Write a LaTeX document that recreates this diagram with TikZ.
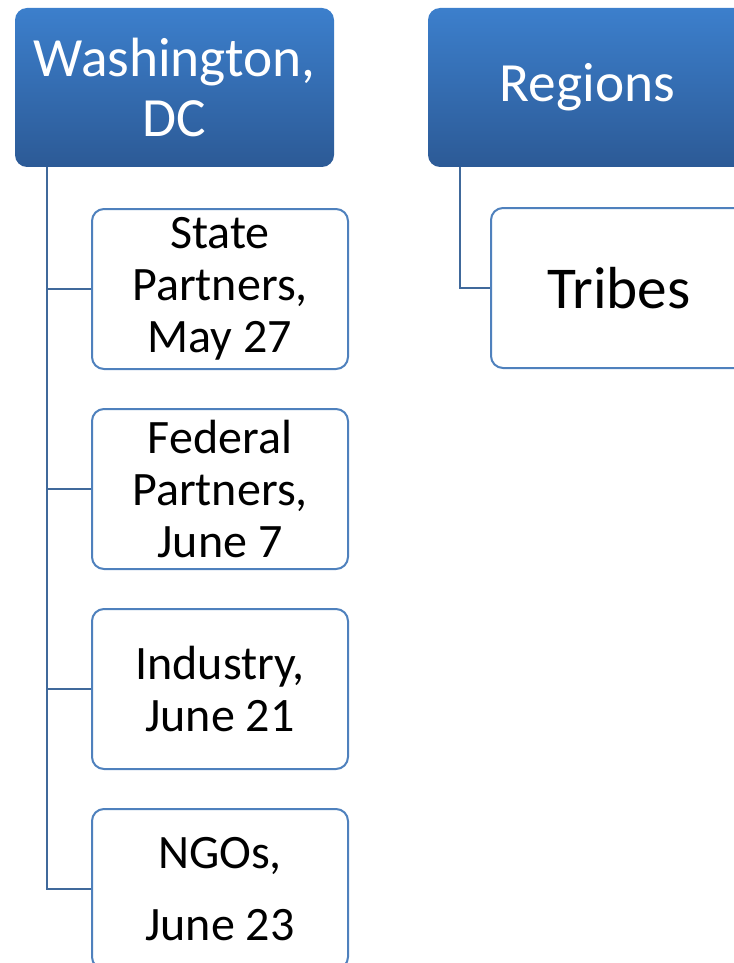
\documentclass[tikz,border=0pt]{standalone}
\usepackage{fontspec}
\setmainfont{Carlito}
\usetikzlibrary{positioning}

\definecolor{boxline}{RGB}{79,129,189}
\definecolor{linkline}{RGB}{64,105,155}
\definecolor{headtop}{RGB}{60,127,204}
\definecolor{headbot}{RGB}{44,90,150}

\tikzset{
  headbox/.style={rounded corners=9pt, top color=headtop, bottom color=headbot, draw=none,
    text=white, minimum width=239.25pt, minimum height=119.25pt, align=center, inner sep=0pt,
    font=\fontsize{41.5}{45}\selectfont},
  itembox/.style={rounded corners=9pt, draw=boxline, line width=1.5pt, fill=white,
    minimum width=192pt, minimum height=120pt, align=center, inner sep=0pt,
    font=\fontsize{36}{39}\selectfont},
  link/.style={draw=linkline, line width=1.5pt}
}

\begin{document}
\begin{tikzpicture}[x=0.75pt,y=0.75pt,yscale=-1,xscale=1]
\useasboundingbox (0,0) rectangle (734,963);
\clip (0,0) rectangle (734,963);

% Head boxes
\node [headbox] (wash) at (174.5,87.5) {Washington,\\DC};
\node [headbox] (regions) at (587.5,87.5) {Regions};

% Items under Washington
\node [itembox] (state) at (220,289) {State\\Partners,\\May 27};
\node [itembox, below=28.5pt of state] (federal) {Federal\\Partners,\\June 7};
\node [itembox, below=28.5pt of federal] (industry) {Industry,\\June 21};
\node [itembox, below=28.5pt of industry, font=\fontsize{36}{54}\selectfont] (ngos) {NGOs,\\June 23};

% Item under Regions
\node [itembox, font=\fontsize{44.5}{50}\selectfont] (tribes) at (619,288) {Tribes};

% Links
\draw [link] (wash.south west) ++(32,0) |- (state.west);
\draw [link] (wash.south west) ++(32,0) |- (federal.west);
\draw [link] (wash.south west) ++(32,0) |- (industry.west);
\draw [link] (wash.south west) ++(32,0) |- (ngos.west);
\draw [link] (regions.south west) ++(32,0) |- (tribes.west);

\end{tikzpicture}
\end{document}
